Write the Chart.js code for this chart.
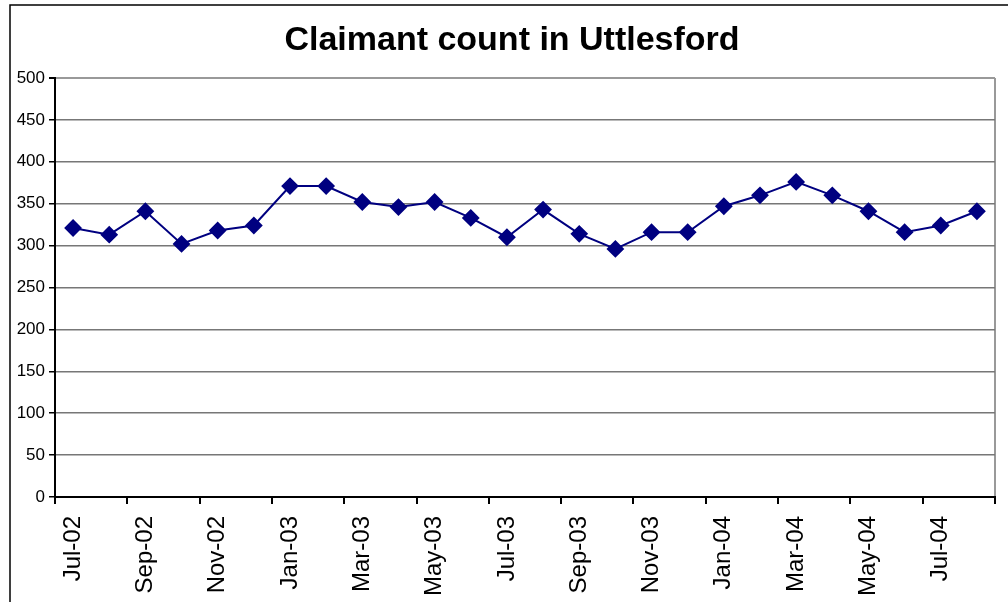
<!DOCTYPE html>
<html>
<head>
<meta charset="utf-8">
<title>Claimant count in Uttlesford</title>
<script src="https://cdn.jsdelivr.net/npm/chart.js@4.4.1/dist/chart.umd.min.js"></script>
<style>
  html, body { margin: 0; padding: 0; background: #fff; }
  #wrap { width: 1008px; height: 602px; position: relative; }
</style>
</head>
<body>
<div id="wrap"><canvas id="claimantChart" width="1008" height="602"></canvas></div>
<script>
// months Jul-02 .. Aug-04
const months = [
  "Jul-02", "Aug-02", "Sep-02", "Oct-02", "Nov-02", "Dec-02",
  "Jan-03", "Feb-03", "Mar-03", "Apr-03", "May-03", "Jun-03",
  "Jul-03", "Aug-03", "Sep-03", "Oct-03", "Nov-03", "Dec-03",
  "Jan-04", "Feb-04", "Mar-04", "Apr-04", "May-04", "Jun-04",
  "Jul-04", "Aug-04"
];
const claimants = [
  321, 313, 341, 302, 318, 324,
  371, 371, 352, 346, 352, 333,
  310, 343, 314, 296, 316, 316,
  347, 360, 376, 360, 341, 316,
  324, 341
];
const yTicks = [0, 50, 100, 150, 200, 250, 300, 350, 400, 450, 500];
const chartTitle = "Claimant count in Uttlesford";

const FONT = "'Liberation Sans', Arial, sans-serif";

// outer chart frame (left + top edges) and the title, centred like the original
const framePlugin = {
  id: "frame",
  beforeDraw(chart) {
    const ctx = chart.ctx;
    ctx.save();
    ctx.strokeStyle = "#000";
    ctx.lineWidth = 1.5;
    ctx.beginPath();
    ctx.moveTo(10, chart.height);
    ctx.lineTo(10, 5);
    ctx.lineTo(chart.width, 5);
    ctx.stroke();

    ctx.fillStyle = "#000";
    ctx.font = "bold 34px " + FONT;
    ctx.textAlign = "center";
    ctx.textBaseline = "middle";
    ctx.fillText(chartTitle, 512, 41);
    ctx.restore();
  },
};

// the extra offset grid line (right edge of plot) has no tick index
const isEdge = (c) => c.index === undefined;

new Chart(document.getElementById("claimantChart").getContext("2d"), {
  type: "line",
  data: {
    labels: months,
    datasets: [
      {
        label: "Claimant count",
        data: claimants,
        borderColor: "#000080",
        backgroundColor: "#000080",
        borderWidth: 2,
        pointStyle: "rectRot",
        pointRadius: 7.5,
        pointHoverRadius: 7.5,
        tension: 0,
        fill: false,
      },
    ],
  },
  options: {
    responsive: false,
    animation: false,
    layout: { padding: { left: 10, right: 13, top: 78, bottom: 0 } },
    scales: {
      x: {
        offset: true,
        afterFit: (scale) => {
          scale.height = 105;
          scale.paddingLeft = 0;
          scale.paddingRight = 0;
        },
        grid: {
          offset: true,
          drawOnChartArea: true,
          color: (c) => (isEdge(c) ? "#999" : "rgba(0,0,0,0)"),
          lineWidth: 2,
          tickColor: (c) => (isEdge(c) || c.index % 2 === 0 ? "#000" : "rgba(0,0,0,0)"),
          tickLength: 7,
        },
        border: { color: "#000", width: 2 },
        ticks: {
          autoSkip: false,
          minRotation: 90,
          maxRotation: 90,
          padding: 12,
          color: "#000",
          font: { family: FONT, size: 24 },
          callback: (v, i) => (i % 2 === 0 ? months[i] : ""),
        },
      },
      y: {
        min: 0,
        max: 500,
        afterFit: (scale) => { scale.width = 45; },
        afterBuildTicks: (scale) => {
          scale.ticks = yTicks.map((v) => ({ value: v }));
        },
        grid: {
          color: (c) => (c.tick && c.tick.value === 500 ? "#999" : "#777"),
          lineWidth: (c) => (c.tick && c.tick.value === 500 ? 2 : 1.5),
          tickColor: "#000",
          tickLength: 6,
        },
        border: { color: "#000", width: 2 },
        ticks: {
          padding: 4,
          color: "#000",
          font: { family: FONT, size: 17 },
        },
      },
    },
    plugins: {
      legend: { display: false },
      tooltip: { enabled: false },
      title: { display: false },
    },
  },
  plugins: [framePlugin],
});
</script>
</body>
</html>
